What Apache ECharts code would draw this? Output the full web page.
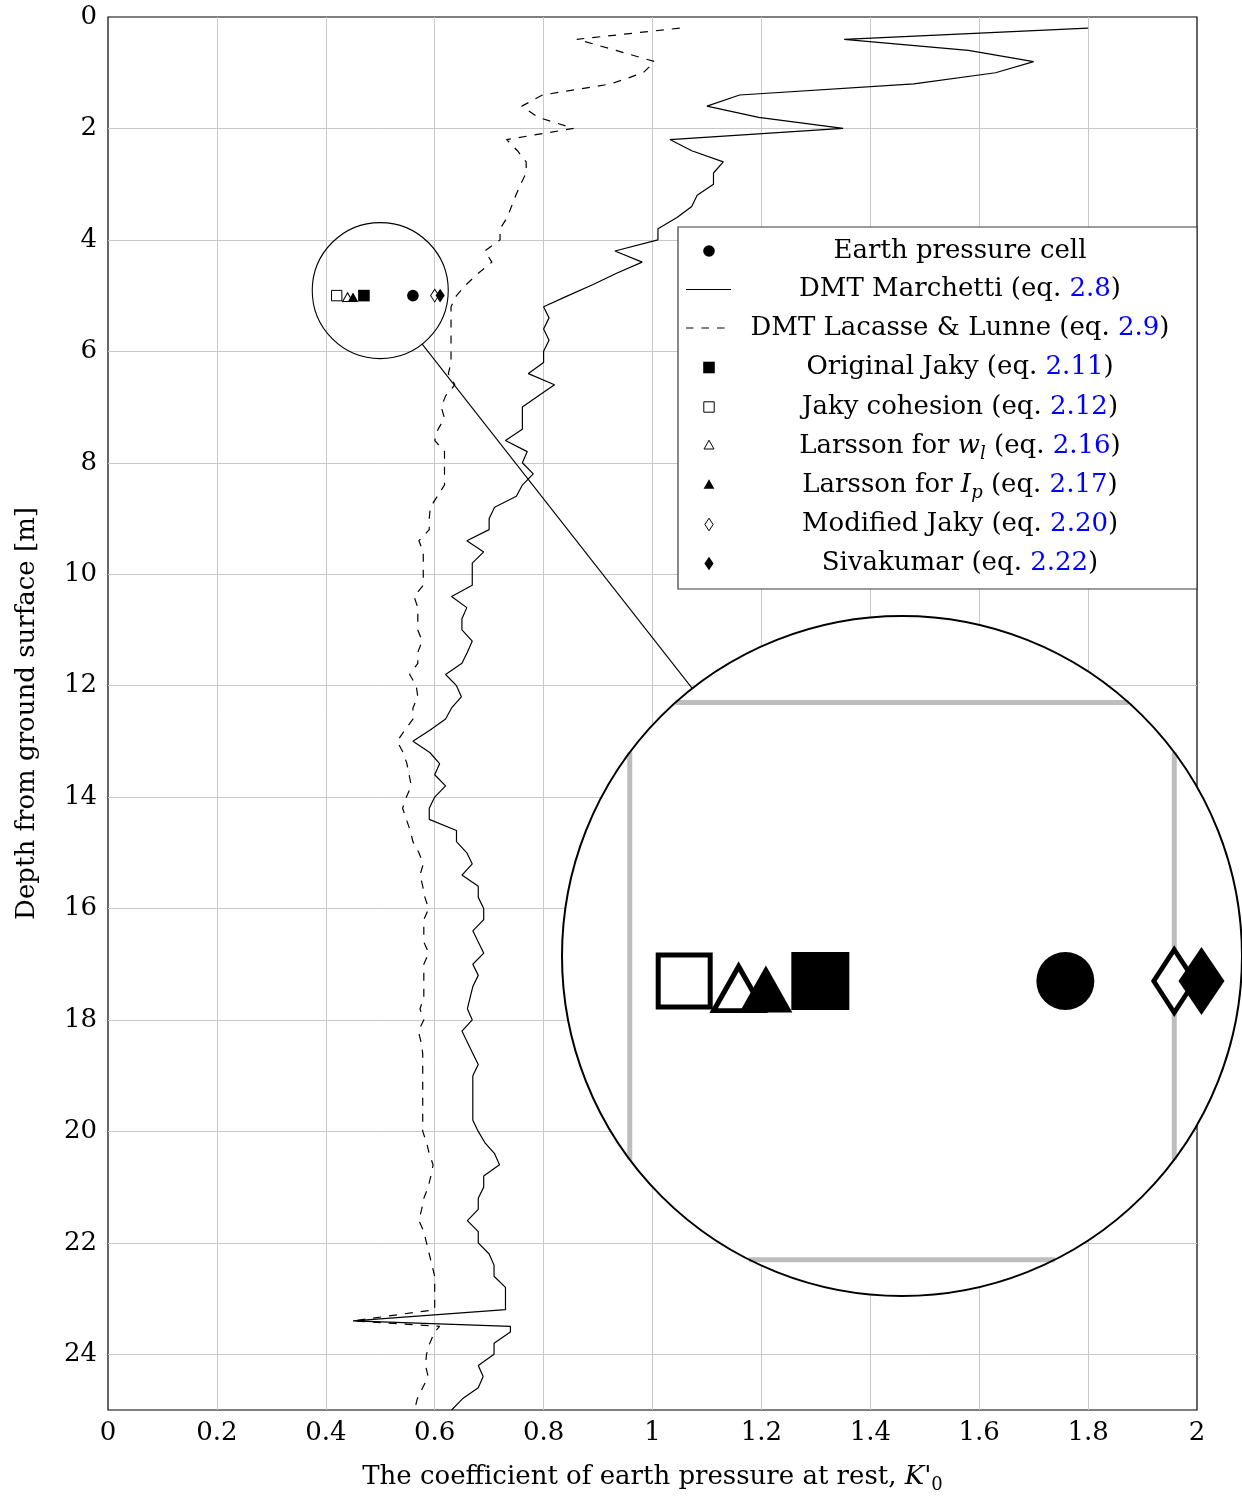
<!DOCTYPE html>
<html><head><meta charset="utf-8">
<script src="https://cdn.jsdelivr.net/npm/echarts@6/dist/echarts.min.js"></script>
<style>html,body{margin:0;padding:0;background:#fff}#c{width:1242px;height:1499px}</style>
</head><body><div id="c"></div>
<script>
// ---------------- DATA ----------------
const depths = [0.2,0.4,0.6,0.8,1.0,1.2,1.4,1.6,1.8,2.0,
2.2,2.4,2.6,2.8,3.0,3.2,3.4,3.6,3.8,4.0,
4.2,4.4,4.6,4.8,5.0,5.2,5.4,5.6,5.8,6.0,
6.2,6.4,6.6,6.8,7.0,7.2,7.4,7.6,7.8,8.0,
8.2,8.4,8.6,8.8,9.0,9.2,9.4,9.6,9.8,10.0,
10.2,10.4,10.6,10.8,11.0,11.2,11.4,11.6,11.8,12.0,
12.2,12.4,12.6,12.8,13.0,13.2,13.4,13.6,13.8,14.0,
14.2,14.4,14.6,14.8,15.0,15.2,15.4,15.6,15.8,16.0,
16.2,16.4,16.6,16.8,17.0,17.2,17.4,17.6,17.8,18.0,
18.2,18.4,18.6,18.8,19.0,19.2,19.4,19.6,19.8,20.0,
20.2,20.4,20.6,20.8,21.0,21.2,21.4,21.6,21.8,22.0,
22.2,22.4,22.6,22.8,23.0,23.2,23.4,23.5,23.6,23.8,
24.0,24.2,24.4,24.6,24.8,25.0];

const kMarchetti = [1.80,1.352,1.58,1.70,1.63,1.48,1.16,1.10,1.195,1.35,
1.032,1.072,1.13,1.112,1.112,1.082,1.072,1.045,1.01,1.01,
0.931,0.981,0.934,0.891,0.845,0.80,0.81,0.80,0.81,0.80,
0.80,0.772,0.82,0.79,0.761,0.761,0.761,0.73,0.77,0.761,
0.781,0.761,0.75,0.71,0.70,0.70,0.659,0.69,0.669,0.669,
0.669,0.631,0.659,0.65,0.65,0.669,0.66,0.65,0.62,0.64,
0.649,0.631,0.62,0.591,0.56,0.591,0.609,0.60,0.62,0.60,
0.59,0.59,0.64,0.64,0.659,0.669,0.65,0.68,0.68,0.69,
0.69,0.67,0.68,0.69,0.67,0.68,0.67,0.665,0.66,0.669,
0.65,0.66,0.67,0.68,0.67,0.67,0.67,0.67,0.67,0.68,
0.692,0.71,0.719,0.69,0.69,0.68,0.68,0.66,0.68,0.68,
0.70,0.709,0.709,0.73,0.73,0.73,0.45,0.739,0.739,0.709,
0.709,0.68,0.689,0.68,0.651,0.631];

const kLacasse = [1.05,0.861,0.933,1.004,0.983,0.924,0.798,0.76,0.79,0.855,
0.732,0.752,0.768,0.768,0.758,0.749,0.741,0.733,0.72,0.72,
0.692,0.705,0.68,0.658,0.64,0.63,0.63,0.63,0.63,0.63,
0.63,0.625,0.637,0.62,0.612,0.618,0.606,0.60,0.618,0.618,
0.618,0.618,0.605,0.592,0.59,0.59,0.571,0.579,0.579,0.579,
0.579,0.562,0.569,0.569,0.569,0.577,0.569,0.569,0.554,0.566,
0.569,0.56,0.56,0.545,0.531,0.542,0.549,0.553,0.557,0.548,
0.541,0.548,0.555,0.56,0.571,0.579,0.573,0.578,0.582,0.589,
0.58,0.58,0.58,0.589,0.58,0.58,0.58,0.58,0.573,0.58,
0.57,0.575,0.578,0.578,0.578,0.578,0.578,0.578,0.578,0.578,
0.585,0.59,0.597,0.593,0.588,0.58,0.576,0.571,0.58,0.585,
0.59,0.595,0.60,0.60,0.60,0.60,0.45,0.609,0.60,0.591,
0.585,0.583,0.588,0.578,0.568,0.563];

// point estimates at the earth pressure cell depth (draw order)
const markerNames = ['Jaky cohesion','Larsson wl','Larsson Ip','Original Jaky','Earth pressure cell','Modified Jaky','Sivakumar'];
const markerK     = [0.42, 0.44, 0.45, 0.47, 0.56, 0.60, 0.61];
const markerDepth = [5, 5, 5, 5, 5, 5, 5];

const xTicks = [0,0.2,0.4,0.6,0.8,1,1.2,1.4,1.6,1.8,2];
const xTickLabels = ['0','0.2','0.4','0.6','0.8','1','1.2','1.4','1.6','1.8','2'];
const yTicks = [0,2,4,6,8,10,12,14,16,18,20,22,24];
const yTickLabels = ['0','2','4','6','8','10','12','14','16','18','20','22','24'];

// legend entries (order as in reference)
const legendLabels = ['Earth pressure cell','DMT Marchetti','DMT Lacasse & Lunne','Original Jaky','Jaky cohesion','Larsson for wl','Larsson for Ip','Modified Jaky','Sivakumar'];
const legendEq = ['', '2.8', '2.9', '2.11', '2.12', '2.16', '2.17', '2.20', '2.22'];

const zoomCenter = [0.5, 4.91];

// ---------------- STYLE / LAYOUT ----------------
const FONT = '"DejaVu Serif", serif';
const FS = 26;
const G = {left:108, top:17, width:1089, height:1393};
const XR = [0, 2], YR = [0, 25];
const smallR = 68, mag = 5, bigR = smallR*mag, bigC = [902, 956];
const kPerPx = (XR[1]-XR[0])/G.width, dPerPx = (YR[1]-YR[0])/G.height;
const zxr = [zoomCenter[0]-smallR*kPerPx, zoomCenter[0]+smallR*kPerPx];
const zyr = [zoomCenter[1]-smallR*dPerPx, zoomCenter[1]+smallR*dPerPx];

const markerStyle = {
  'Jaky cohesion':      {symbol:'rect',     size:[10.4,10.4], fill:'#fff', bw:1},
  'Larsson wl':         {symbol:'triangle', size:[10.0,8.8],  fill:'#fff', bw:1, offset:[0,1.5]},
  'Larsson Ip':         {symbol:'triangle', size:[10.6,9.4],  fill:'#000', bw:0, offset:[0,1.6]},
  'Original Jaky':      {symbol:'rect',     size:[11.6,11.6], fill:'#000', bw:0},
  'Earth pressure cell':{symbol:'circle',   size:[11.6,11.6], fill:'#000', bw:0},
  'Modified Jaky':      {symbol:'diamond',  size:[8.2,12.6],  fill:'#fff', bw:1},
  'Sivakumar':          {symbol:'diamond',  size:[9.2,13.6],  fill:'#000', bw:0}
};

const rich = {
  n:{fontFamily:FONT,fontSize:FS,color:'#000',fill:'#000',lineHeight:34},
  b:{fontFamily:FONT,fontSize:FS,color:'#0000ff',fill:'#0000ff',lineHeight:34},
  i:{fontFamily:FONT,fontSize:FS,fontStyle:'italic',color:'#000',fill:'#000',lineHeight:34},
  s:{fontFamily:FONT,fontSize:18,fontStyle:'italic',color:'#000',fill:'#000',lineHeight:14,verticalAlign:'bottom'},
  z:{fontFamily:FONT,fontSize:18,color:'#000',fill:'#000',lineHeight:14,verticalAlign:'bottom'},
  p:{fontFamily:FONT,fontSize:FS,fontStyle:'italic',color:'#000',fill:'#000',lineHeight:34}
};

function tickFmt(ticks, labels){
  return v => { const i = ticks.findIndex(t => Math.abs(t-v) < 1e-6); return i < 0 ? '' : labels[i]; };
}
function legendRich(i){
  let lab = legendLabels[i];
  let t;
  if (lab === 'Larsson for wl') t = '{n|Larsson for }{i|w}{s|l}';
  else if (lab === 'Larsson for Ip') t = '{n|Larsson for }{i|I}{s|p}';
  else t = '{n|' + lab + '}';
  if (legendEq[i]) t = t + '{n| (eq. }{b|' + legendEq[i] + '}{n|)}';
  return t;
}

function markerSeries(i, zoom){
  const st = markerStyle[markerNames[i]];
  const s = zoom ? mag : 1;
  return {
    type:'scatter', name: markerNames[i] + (zoom?'-zoom':''),
    xAxisIndex: zoom?1:0, yAxisIndex: zoom?1:0,
    data:[[markerK[i], markerDepth[i]]],
    symbol: st.symbol, symbolSize: st.size.map(v=>v*s),
    symbolOffset: (st.offset||[0,0]).map(v=>v*s),
    itemStyle:{color:st.fill, borderColor:'#000', borderWidth: st.bw*s, opacity:1},
    silent:true, animation:false, z: zoom?4:3, clip:false
  };
}

const chart = echarts.init(document.getElementById('c'), null, {renderer:'canvas'});

const series = [
  {type:'line', name:'DMT Marchetti', xAxisIndex:0, yAxisIndex:0,
   data: depths.map((d,i)=>[kMarchetti[i], d]), showSymbol:false, symbol:'none',
   lineStyle:{color:'#000', width:1.2}, silent:true, animation:false, z:2},
  {type:'line', name:'DMT Lacasse & Lunne', xAxisIndex:0, yAxisIndex:0,
   data: depths.map((d,i)=>[kLacasse[i], d]), showSymbol:false, symbol:'none',
   lineStyle:{color:'#000', width:1.2, type:[8,8]}, silent:true, animation:false, z:2}
];
for (let i=0;i<markerNames.length;i++) series.push(markerSeries(i,false));
for (let i=0;i<markerNames.length;i++) series.push(markerSeries(i,true));

const option = {
  animation:false,
  backgroundColor:'#fff',
  grid:[
    {left:G.left, top:G.top, width:G.width, height:G.height, show:true, borderColor:'#000', borderWidth:1.2,
     backgroundColor:'rgba(0,0,0,0)', containLabel:false, outerBoundsMode:'none'},
    {left:bigC[0]-bigR, top:bigC[1]-bigR, width:2*bigR, height:2*bigR, show:false, containLabel:false, outerBoundsMode:'none'}
  ],
  xAxis:[
    {type:'value', gridIndex:0, min:XR[0], max:XR[1], interval:0.2,
     axisLine:{show:false}, axisTick:{show:false},
     axisLabel:{color:'#000', fontFamily:FONT, fontSize:FS, margin:10, formatter:tickFmt(xTicks,xTickLabels)},
     splitLine:{show:true, showMinLine:false, showMaxLine:false, lineStyle:{color:'#c8c8c8', width:1}},
     name:"{n|The coefficient of earth pressure at rest, }{i|K}{p|'}{z|0}",
     nameLocation:'middle', nameGap:50,
     nameTextStyle:{fontFamily:FONT, fontSize:FS, color:'#000', rich:rich}},
    {type:'value', gridIndex:1, min:zxr[0], max:zxr[1], show:false}
  ],
  yAxis:[
    {type:'value', gridIndex:0, inverse:true, min:YR[0], max:YR[1], interval:2,
     axisLine:{show:false}, axisTick:{show:false},
     axisLabel:{color:'#000', fontFamily:FONT, fontSize:FS, margin:11, formatter:tickFmt(yTicks,yTickLabels)},
     splitLine:{show:true, showMinLine:false, showMaxLine:false, lineStyle:{color:'#c8c8c8', width:1}},
     name:'{n|Depth from ground surface [m]}', nameLocation:'middle', nameGap:64, nameRotate:90,
     nameTextStyle:{fontFamily:FONT, fontSize:FS, color:'#000', rich:rich}},
    {type:'value', gridIndex:1, inverse:true, min:zyr[0], max:zyr[1], show:false}
  ],
  series: series
};
chart.setOption(option);

// ---------------- zoom (spy) decoration & legend ----------------
const graphics = [];
graphics.push({type:'circle', shape:{cx:bigC[0], cy:bigC[1], r:bigR}, style:{fill:'#fff', stroke:'none'}, z:1, silent:true});
// magnified grid lines, clipped to the circle
xTicks.forEach(t => {
  if (t <= zxr[0] || t >= zxr[1]) return;
  const p = chart.convertToPixel({gridIndex:1}, [t, zoomCenter[1]]);
  const dx = p[0]-bigC[0];
  if (Math.abs(dx) >= bigR) return;
  const h = Math.sqrt(bigR*bigR - dx*dx);
  graphics.push({type:'line', shape:{x1:p[0], y1:bigC[1]-h, x2:p[0], y2:bigC[1]+h}, style:{stroke:'#bdbdbd', lineWidth:5}, z:1, silent:true});
});
yTicks.forEach(t => {
  if (t <= zyr[0] || t >= zyr[1]) return;
  const p = chart.convertToPixel({gridIndex:1}, [zoomCenter[0], t]);
  const dy = p[1]-bigC[1];
  if (Math.abs(dy) >= bigR) return;
  const w = Math.sqrt(bigR*bigR - dy*dy);
  graphics.push({type:'line', shape:{x1:bigC[0]-w, y1:p[1], x2:bigC[0]+w, y2:p[1]}, style:{stroke:'#bdbdbd', lineWidth:5}, z:1, silent:true});
});
graphics.push({type:'circle', shape:{cx:bigC[0], cy:bigC[1], r:bigR}, style:{fill:'none', stroke:'#000', lineWidth:2}, z:1, silent:true});

const sc = chart.convertToPixel({gridIndex:0}, zoomCenter);
graphics.push({type:'circle', shape:{cx:sc[0], cy:sc[1], r:smallR}, style:{fill:'none', stroke:'#000', lineWidth:1.1}, z:5, silent:true});
const ux = bigC[0]-sc[0], uy = bigC[1]-sc[1], ul = Math.hypot(ux,uy);
graphics.push({type:'line', shape:{x1:sc[0]+ux/ul*smallR, y1:sc[1]+uy/ul*smallR, x2:bigC[0]-ux/ul*bigR, y2:bigC[1]-uy/ul*bigR},
  style:{stroke:'#000', lineWidth:1.1}, z:5, silent:true});

// legend
const LB = {x:678, y:227, w:519, h:362};
const rowY = [251, 289.5, 328, 367.5, 407, 446, 485.5, 524.5, 563.5];
const symX = 709, txtX = 960;
graphics.push({type:'rect', shape:{x:LB.x, y:LB.y, width:LB.w, height:LB.h}, style:{fill:'#fff', stroke:'#3a3a3a', lineWidth:1.2}, z:10, silent:true});
function legendSymbol(kind, y){
  const k = '#000';
  switch(kind){
    case 'circle': return {type:'circle', shape:{cx:symX, cy:y, r:5.8}, style:{fill:k}};
    case 'line': return {type:'line', shape:{x1:686, y1:y, x2:731, y2:y}, style:{stroke:k, lineWidth:1.2}};
    case 'dash': return {type:'line', shape:{x1:686, y1:y, x2:731, y2:y}, style:{stroke:k, lineWidth:1.2, lineDash:[7.5,8]}};
    case 'fsq': return {type:'rect', shape:{x:symX-5.8, y:y-5.8, width:11.6, height:11.6}, style:{fill:k}};
    case 'osq': return {type:'rect', shape:{x:symX-5.2, y:y-5.2, width:10.4, height:10.4}, style:{fill:'#fff', stroke:k, lineWidth:1}};
    case 'otri': return {type:'polygon', shape:{points:[[symX,y-5.8],[symX+5,y+3],[symX-5,y+3]]}, style:{fill:'#fff', stroke:k, lineWidth:1}};
    case 'ftri': return {type:'polygon', shape:{points:[[symX,y-6.2],[symX+5.4,y+3.2],[symX-5.4,y+3.2]]}, style:{fill:k}};
    case 'odia': return {type:'polygon', shape:{points:[[symX,y-6.3],[symX+4.1,y],[symX,y+6.3],[symX-4.1,y]]}, style:{fill:'#fff', stroke:k, lineWidth:1}};
    case 'fdia': return {type:'polygon', shape:{points:[[symX,y-6.8],[symX+4.6,y],[symX,y+6.8],[symX-4.6,y]]}, style:{fill:k}};
  }
}
const legendKinds = ['circle','line','dash','fsq','osq','otri','ftri','odia','fdia'];
legendKinds.forEach((kind, i) => {
  const g = legendSymbol(kind, rowY[i]); g.z = 10; g.silent = true; graphics.push(g);
  graphics.push({type:'text', z:10, silent:true,
    style:{text: legendRich(i), x:txtX, y:rowY[i], align:'center', verticalAlign:'middle',
      textAlign:'center', textVerticalAlign:'middle',
      fontFamily:FONT, fontSize:FS, fill:'#000', rich:rich}});
});

chart.setOption({graphic: graphics});
</script>
</body></html>
